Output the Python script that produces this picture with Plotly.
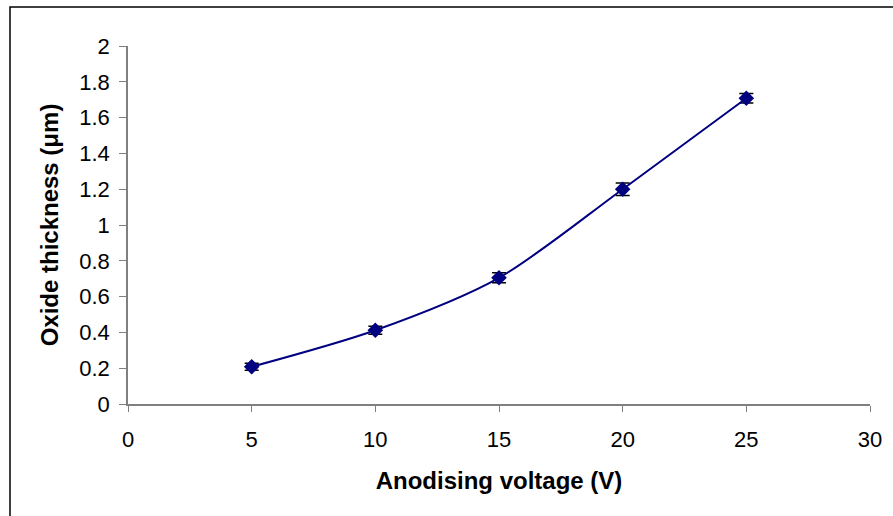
import plotly.graph_objects as go

voltage = [5, 10, 15, 20, 25]
thickness = [0.208, 0.412, 0.705, 1.2, 1.708]
error = [0.02, 0.022, 0.028, 0.035, 0.026]

x_ticks = [0, 5, 10, 15, 20, 25, 30]
y_ticks = [0, 0.2, 0.4, 0.6, 0.8, 1, 1.2, 1.4, 1.6, 1.8, 2]
y_tick_text = ["0", "0.2", "0.4", "0.6", "0.8", "1", "1.2", "1.4", "1.6", "1.8", "2"]

FONT = "Liberation Sans, Arial, sans-serif"

fig = go.Figure()
fig.add_trace(go.Scatter(
    x=voltage, y=thickness,
    mode="lines+markers",
    line=dict(color="#000080", width=2, shape="spline", smoothing=0.8),
    marker=dict(symbol="diamond", size=12, color="#000080"),
    error_y=dict(type="data", array=error, visible=True, color="black", thickness=1.5, width=7),
    showlegend=False,
))

W, H = 893, 516
L, R, T, B = 128, 23, 46, 112
pw = W - L - R
ph = H - T - B

fig.update_layout(
    width=W, height=H,
    margin=dict(l=L, r=R, t=T, b=B),
    paper_bgcolor="white", plot_bgcolor="white",
    font=dict(family=FONT, size=22, color="black"),
    xaxis=dict(
        range=[0, 30], tickvals=x_ticks, ticks="outside", ticklen=6,
        tickcolor="#808080", showline=True, linecolor="#808080", linewidth=1.5,
        showgrid=False, zeroline=False, ticklabelstandoff=9,
        tickfont=dict(size=22),
        title=dict(text="<b>Anodising voltage (V)</b>", font=dict(size=24), standoff=21),
        automargin=False,
    ),
    yaxis=dict(
        range=[0, 2], tickvals=y_ticks, ticktext=y_tick_text, ticks="outside", ticklen=7,
        tickcolor="#808080", showline=True, linecolor="#808080", linewidth=1.5,
        showgrid=False, zeroline=False, ticklabelstandoff=5,
        tickfont=dict(size=22),
        title=dict(text="<b>Oxide thickness (μm)</b>", font=dict(size=24), standoff=14),
        automargin=False,
    ),
    shapes=[dict(
        type="rect", xref="paper", yref="paper",
        x0=(10 - L) / pw, x1=(W + 20 - L) / pw,
        y0=-(H + 20 - (T + ph)) / ph, y1=(T + ph - 7) / ph,
        line=dict(color="black", width=1.5), fillcolor="rgba(0,0,0,0)", layer="below",
    )],
)

fig.write_html("out.html", config={"displayModeBar": False},
               post_script="document.body.style.margin='0';")
